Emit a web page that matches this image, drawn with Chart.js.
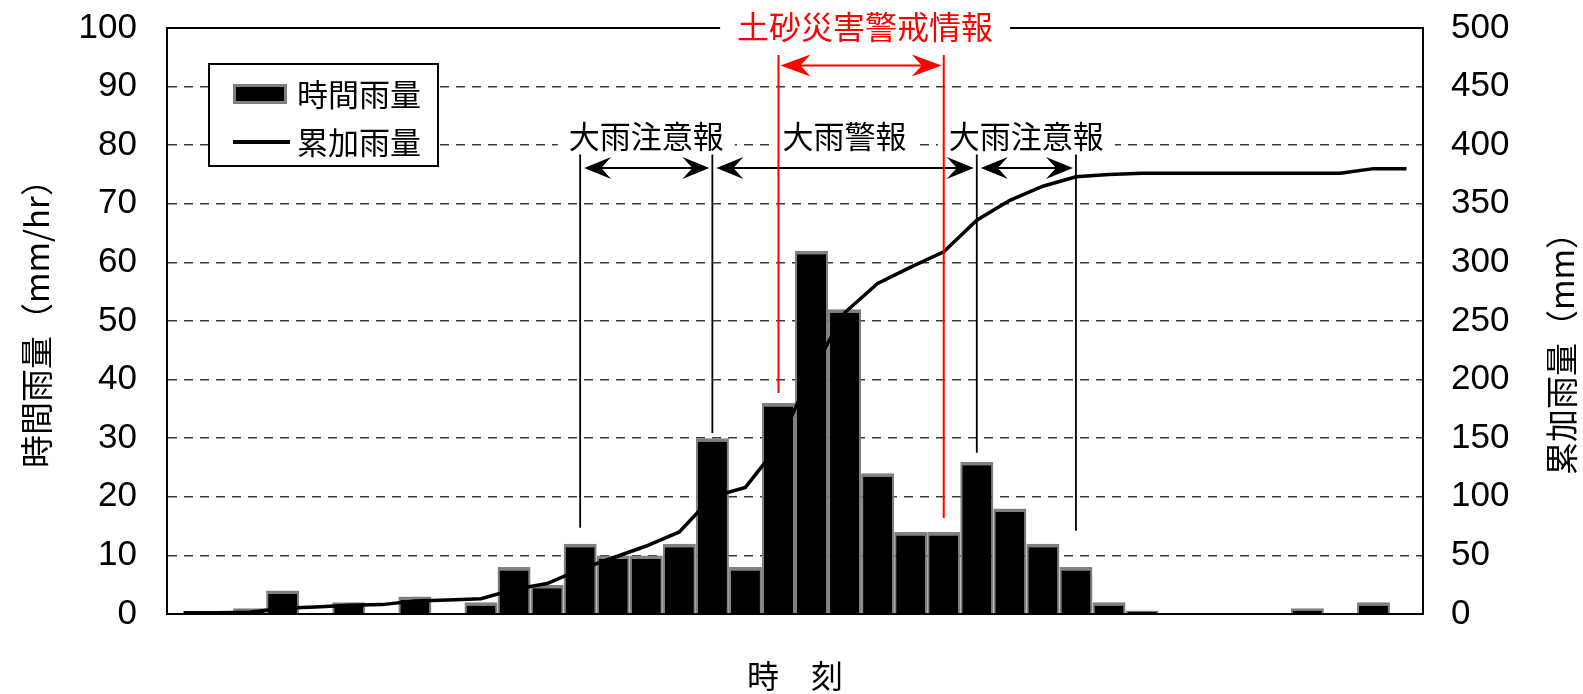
<!DOCTYPE html>
<html lang="ja">
<head>
<meta charset="utf-8">
<title>時間雨量と累加雨量</title>
<script src="https://cdn.jsdelivr.net/npm/chart.js@4/dist/chart.umd.min.js"></script>
<style>
  html, body { margin: 0; padding: 0; background: #fff; }
  #wrap { width: 1583px; height: 694px; }
</style>
</head>
<body>
<div id="wrap"><canvas id="rainChart" width="1583" height="694"></canvas></div>
<script>
// time slots (1 hour each), x labels are not shown in the figure
const hours = ['1', '2', '3', '4', '5', '6', '7', '8', '9', '10',
  '11', '12', '13', '14', '15', '16', '17', '18', '19', '20',
  '21', '22', '23', '24', '25', '26', '27', '28', '29', '30',
  '31', '32', '33', '34', '35', '36', '37', '38'];

// 時間雨量 (mm/hr)
const hourlyRain = [0, 0, 1, 4, 0, 2, 0, 3, 0, 2,
  8, 5, 12, 10, 10, 12, 30, 8, 36, 62,
  52, 24, 14, 14, 26, 18, 12, 8, 2, 0.6,
  0, 0, 0, 0, 1, 0, 2, 0];

// 累加雨量 (mm)
const totalRain = [1, 1, 1.5, 5, 6, 7.5, 8, 11, 12, 13,
  21, 26, 38, 48, 58, 70, 100, 108, 144, 206,
  257, 282, 296, 309, 336, 353, 365, 373, 375, 376,
  376, 376, 376, 376, 376, 376, 380, 380];

// 大雨注意報 / 大雨警報 periods (slot index from, to)
const warnFrom = [12, 16, 24];
const warnTo = [16, 24, 27];
const warnNames = ['大雨注意報', '大雨警報', '大雨注意報'];
// bottom end of each black marker line (left axis value)
const markSlots = [12, 16, 24, 27];
const markEnds = [14.7, 30.9, 27.5, 14.2];

// 土砂災害警戒情報 period
const alertSlots = [18, 23];
const alertEnds = [37.7, 16.4];
const alertName = '土砂災害警戒情報';

const leftTitle = '時間雨量（mm/hr）';
const rightTitle = '累加雨量（mm）';

const jpFont = '"Noto Sans CJK JP"';
const numFont = '"Liberation Sans", Arial, sans-serif';

function arrowHead(ctx, tipX, y, dir, len, half) {
  const notch = 10;
  ctx.beginPath();
  ctx.moveTo(tipX, y);
  ctx.lineTo(tipX - dir * len, y - half);
  ctx.lineTo(tipX - dir * (len - notch), y);
  ctx.lineTo(tipX - dir * len, y + half);
  ctx.closePath();
  ctx.fill();
}

function doubleArrow(ctx, x1, x2, y, color, len) {
  ctx.strokeStyle = color;
  ctx.fillStyle = color;
  ctx.lineWidth = 2;
  ctx.beginPath();
  ctx.moveTo(x1 + 10, y);
  ctx.lineTo(x2 - 10, y);
  ctx.stroke();
  arrowHead(ctx, x1, y, -1, len, 11);
  arrowHead(ctx, x2, y, 1, len, 11);
}

function labelWithBg(ctx, text, cx, cy, pad) {
  const w = ctx.measureText(text).width;
  const fill = ctx.fillStyle;
  ctx.fillStyle = '#fff';
  ctx.fillRect(cx - w / 2 - pad, cy - 18, w + pad * 2, 36);
  ctx.fillStyle = fill;
  ctx.fillText(text, cx, cy);
}

// vertical title reading bottom to top, ink from yBottom up to about yTop
function sideTitle(ctx, text, x, yBottom, yTop, baseSize) {
  ctx.save();
  ctx.fillStyle = '#000';
  ctx.textAlign = 'left';
  ctx.textBaseline = 'middle';
  ctx.font = baseSize + 'px ' + jpFont;
  let m = ctx.measureText(text);
  const ink = m.actualBoundingBoxLeft + m.actualBoundingBoxRight;
  let size = baseSize * (yBottom - yTop) / ink;
  size = Math.max(28, Math.min(33, size));
  ctx.font = size + 'px ' + jpFont;
  m = ctx.measureText(text);
  ctx.translate(x, yBottom - m.actualBoundingBoxLeft);
  ctx.rotate(-Math.PI / 2);
  ctx.fillText(text, 0, 0);
  ctx.restore();
}

// fixed box sizes so the plot area sits where it does in the figure
function fixWidth(w) {
  return function (scale) {
    scale.width = w;
    scale.paddingTop = 0;
    scale.paddingBottom = 0;
  };
}

const extras = {
  id: 'extras',
  afterDraw(chart) {
    const { ctx, chartArea: a, scales } = chart;
    const x = scales.x, y = scales.y;
    ctx.save();

    // top frame line
    ctx.strokeStyle = '#000';
    ctx.lineWidth = 2;
    ctx.beginPath();
    ctx.moveTo(a.left, a.top);
    ctx.lineTo(a.right, a.top);
    ctx.stroke();

    // legend box
    const bars = chart.data.datasets[0];
    const line = chart.data.datasets[1];
    const lx = a.left + 42, ly = a.top + 36;
    ctx.fillStyle = '#fff';
    ctx.fillRect(lx, ly, 229, 102);
    ctx.strokeStyle = '#000';
    ctx.lineWidth = 2;
    ctx.strokeRect(lx, ly, 229, 102);
    ctx.fillStyle = bars.borderColor;
    ctx.fillRect(lx + 24, ly + 20, 54, 20);
    ctx.fillStyle = bars.backgroundColor;
    ctx.fillRect(lx + 27, ly + 23, 48, 14);
    ctx.strokeStyle = line.borderColor;
    ctx.lineWidth = 4;
    ctx.beginPath();
    ctx.moveTo(lx + 24, ly + 78);
    ctx.lineTo(lx + 81, ly + 78);
    ctx.stroke();
    ctx.fillStyle = '#000';
    ctx.font = '31px ' + jpFont;
    ctx.textAlign = 'left';
    ctx.textBaseline = 'middle';
    ctx.fillText(bars.label, lx + 88, ly + 30);
    ctx.fillText(line.label, lx + 88, ly + 78);

    // warning labels and arrows
    ctx.textAlign = 'center';
    const labelY = y.getPixelForValue(81.6);
    const arrowY = y.getPixelForValue(76.1);
    warnNames.forEach((name, i) => {
      const x1 = x.getPixelForValue(warnFrom[i]);
      const x2 = x.getPixelForValue(warnTo[i]);
      ctx.fillStyle = '#000';
      labelWithBg(ctx, name, (x1 + x2) / 2, labelY, 11);
      doubleArrow(ctx, x1 + 4, x2 - 3, arrowY, '#000', 27);
    });

    // black marker lines
    ctx.strokeStyle = '#000';
    ctx.lineWidth = 1.8;
    const markTop = y.getPixelForValue(78.4);
    markSlots.forEach((s, i) => {
      const px = x.getPixelForValue(s);
      ctx.beginPath();
      ctx.moveTo(px, markTop);
      ctx.lineTo(px, y.getPixelForValue(markEnds[i]));
      ctx.stroke();
    });

    // 土砂災害警戒情報
    const r1 = x.getPixelForValue(alertSlots[0]);
    const r2 = x.getPixelForValue(alertSlots[1]);
    ctx.font = '32px ' + jpFont;
    ctx.fillStyle = '#ff0000';
    labelWithBg(ctx, alertName, (r1 + r2) / 2 + 4, a.top - 1, 17);
    ctx.strokeStyle = '#ff0000';
    ctx.lineWidth = 2;
    const redTop = y.getPixelForValue(95.4);
    alertSlots.forEach((s, i) => {
      const px = x.getPixelForValue(s);
      ctx.beginPath();
      ctx.moveTo(px, redTop);
      ctx.lineTo(px, y.getPixelForValue(alertEnds[i]));
      ctx.stroke();
    });
    doubleArrow(ctx, r1 + 2, r2 - 2, y.getPixelForValue(93.6), '#ff0000', 30);
    ctx.restore();

    // axis titles
    sideTitle(ctx, leftTitle, 36, 466, 182, 31);
    sideTitle(ctx, rightTitle, scales.y2.right - 22, 474, 209, 32);
  }
};

new Chart(document.getElementById('rainChart'), {
  type: 'bar',
  data: {
    labels: hours,
    datasets: [
      {
        type: 'bar',
        label: '時間雨量',
        data: hourlyRain,
        yAxisID: 'y',
        backgroundColor: '#000000',
        borderColor: '#808080',
        borderWidth: { top: 3.5, left: 2, right: 2, bottom: 0 },
        barPercentage: 1,
        categoryPercentage: 1,
        inflateAmount: 0,
        order: 1
      },
      {
        type: 'line',
        label: '累加雨量',
        data: totalRain,
        yAxisID: 'y2',
        borderColor: '#000000',
        borderWidth: 3.5,
        pointRadius: 0,
        tension: 0,
        fill: false,
        order: 0
      }
    ]
  },
  options: {
    responsive: false,
    animation: false,
    devicePixelRatio: 1,
    layout: { padding: { top: 28, left: 0, right: 0, bottom: 0 } },
    plugins: {
      legend: { display: false },
      tooltip: { enabled: false }
    },
    scales: {
      x: {
        grid: { display: false },
        ticks: { display: false },
        border: { display: true, color: '#000', width: 2 },
        title: {
          display: true,
          text: '時　刻',
          color: '#000',
          font: { family: jpFont, size: 32, lineHeight: 1 },
          padding: { top: 0, bottom: 2 }
        },
        afterFit(scale) { scale.height = 80; }
      },
      y: {
        position: 'left',
        min: 0,
        max: 100,
        ticks: {
          stepSize: 10,
          color: '#000',
          padding: 30,
          font: { family: numFont, size: 35 }
        },
        grid: {
          drawTicks: false,
          lineWidth: 1.5,
          color: c => (c.tick && (c.tick.value === 0 || c.tick.value === 100)) ? 'rgba(0,0,0,0)' : '#3a3a3a'
        },
        border: { display: true, color: '#000', width: 2, dash: [9, 7] },
        afterFit: fixWidth(167)
      },
      y2: {
        position: 'right',
        min: 0,
        max: 500,
        ticks: {
          stepSize: 50,
          color: '#000',
          padding: 28,
          font: { family: numFont, size: 35 }
        },
        grid: { drawOnChartArea: false, drawTicks: false },
        border: { display: true, color: '#000', width: 2 },
        afterFit: fixWidth(160)
      }
    }
  },
  plugins: [extras]
});
</script>
</body>
</html>
